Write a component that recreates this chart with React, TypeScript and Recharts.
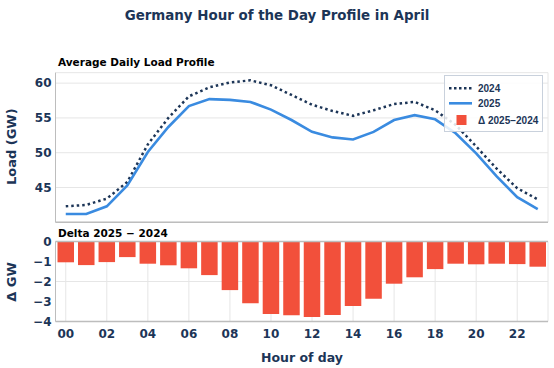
import React from 'react';
import { LineChart, Line, BarChart, Bar, XAxis, YAxis, CartesianGrid, ReferenceLine } from 'recharts';

const hours = [0, 1, 2, 3, 4, 5, 6, 7, 8, 9, 10, 11, 12, 13, 14, 15, 16, 17, 18, 19, 20, 21, 22, 23];
const load2024 = [42.3, 42.5, 43.4, 45.8, 51.2, 55.0, 58.1, 59.4, 60.1, 60.4, 59.7, 58.3, 56.9, 56.0, 55.3, 56.1, 57.0, 57.3, 56.1, 54.0, 50.9, 47.7, 44.9, 43.3];
const load2025 = [41.2, 41.2, 42.3, 45.3, 50.1, 53.7, 56.7, 57.7, 57.6, 57.3, 56.2, 54.7, 53.0, 52.2, 51.9, 53.0, 54.7, 55.4, 54.8, 52.8, 49.9, 46.6, 43.6, 41.9];
const delta = [-1.04, -1.18, -1.03, -0.78, -1.11, -1.19, -1.34, -1.68, -2.43, -3.09, -3.63, -3.69, -3.78, -3.68, -3.23, -2.86, -2.11, -1.79, -1.38, -1.11, -1.14, -1.11, -1.13, -1.26];
const hourTicks = [0, 2, 4, 6, 8, 10, 12, 14, 16, 18, 20, 22];
const loadTicks = [45, 50, 55, 60];
const deltaTicks = [0, -1, -2, -3, -4];

const data = hours.map((h, i) => ({ hour: h, y2024: load2024[i], y2025: load2025[i], delta: delta[i] }));

const NAVY = '#1c3557';
const BLUE = '#3a8be0';
const RED = '#f2503b';
const GRID = '#e6e6e6';
const AXIS = '#bdbdbd';
const FONT = '"DejaVu Sans", sans-serif';
const LEGFONT = '"Liberation Sans", Arial, sans-serif';

const tickStyle = { fill: NAVY, fontSize: 12, fontWeight: 'bold', fontFamily: FONT };

export default function App() {
  return (
    <div style={{ position: 'absolute', left: 0, top: 0, width: 554, height: 368, background: '#fff', overflow: 'hidden' }}>
      <div style={{ position: 'absolute', left: 0, top: 0 }}>
        <LineChart width={554} height={368} data={data} margin={{ top: 72.7, right: 6, bottom: 144.7, left: 0 }}>
          <CartesianGrid stroke={GRID} strokeWidth={1} />
          <XAxis dataKey="hour" type="number" domain={[-0.5, 23.5]} ticks={hourTicks} tick={false} tickLine={false} height={1} axisLine={{ stroke: AXIS, strokeWidth: 1.5 }} />
          <YAxis type="number" domain={[40, 61.5]} ticks={loadTicks} width={55.5} tickLine={false} tickSize={2} tickMargin={2} tick={tickStyle} axisLine={{ stroke: AXIS, strokeWidth: 1 }} />
          <Line dataKey="y2024" stroke={NAVY} strokeWidth={2.5} strokeDasharray="2.5 3" dot={false} isAnimationActive={false} />
          <Line dataKey="y2025" stroke={BLUE} strokeWidth={2.6} dot={false} isAnimationActive={false} />
        </LineChart>
      </div>
      <div style={{ position: 'absolute', left: 0, top: 0 }}>
        <BarChart width={554} height={368} data={data} margin={{ top: 241.5, right: 6, bottom: 16.5, left: 0 }}>
          <CartesianGrid stroke={GRID} strokeWidth={1} />
          <XAxis dataKey="hour" type="number" domain={[-0.5, 23.5]} ticks={hourTicks} height={30} tickLine={false} tick={tickStyle} tickFormatter={(h: number) => String(h).padStart(2, '0')} axisLine={{ stroke: AXIS, strokeWidth: 1.5 }} />
          <YAxis type="number" domain={[-4, 0]} ticks={deltaTicks} width={55.5} tickLine={false} tickSize={2} tickMargin={2} tick={tickStyle} tickFormatter={(v: number) => (v < 0 ? '\u2212' + Math.abs(v) : String(v))} axisLine={{ stroke: AXIS, strokeWidth: 1 }} />
          <Bar dataKey="delta" fill={RED} barSize={16.5} isAnimationActive={false} />
          <ReferenceLine y={0} stroke={AXIS} strokeWidth={1.5} />
        </BarChart>
      </div>
      <svg width={554} height={368} style={{ position: 'absolute', left: 0, top: 0, pointerEvents: 'none' }}>
        <text x={277} y={19.5} textAnchor="middle" fill={NAVY} fontFamily={FONT} fontWeight="bold" fontSize={13.4}>Germany Hour of the Day Profile in April</text>
        <text x={58} y={66} fill="#000" fontFamily={FONT} fontWeight="bold" fontSize={10.5}>Average Daily Load Profile</text>
        <text x={58} y={237} fill="#000" fontFamily={FONT} fontWeight="bold" fontSize={10.5}>Delta 2025 − 2024</text>
        <text transform="translate(16,146.7) rotate(-90)" textAnchor="middle" fill={NAVY} fontFamily={FONT} fontWeight="bold" fontSize={13}>Load (GW)</text>
        <text transform="translate(16,282) rotate(-90)" textAnchor="middle" fill={NAVY} fontFamily={FONT} fontWeight="bold" fontSize={13}>Δ GW</text>
        <text x={302} y={361.5} textAnchor="middle" fill={NAVY} fontFamily={FONT} fontWeight="bold" fontSize={12.5}>Hour of day</text>
        <rect x={444.5} y={75.5} width={98} height={56} fill="rgba(255,255,255,0.85)" stroke="#c9d1dc" strokeWidth={1} />
        <line x1={449} y1={88.3} x2={472} y2={88.3} stroke={NAVY} strokeWidth={2.5} strokeDasharray="2.5 2.5" />
        <text x={478} y={92} fill={NAVY} fontFamily={LEGFONT} fontWeight="bold" fontSize={10}>2024</text>
        <line x1={449} y1={103.3} x2={472} y2={103.3} stroke={BLUE} strokeWidth={2.6} />
        <text x={478} y={107} fill={NAVY} fontFamily={LEGFONT} fontWeight="bold" fontSize={10}>2025</text>
        <rect x={456.5} y={115} width={10} height={10} fill={RED} />
        <text x={478} y={123.7} fill={NAVY} fontFamily={LEGFONT} fontWeight="bold" fontSize={10}>Δ 2025−2024</text>
      </svg>
    </div>
  );
}
